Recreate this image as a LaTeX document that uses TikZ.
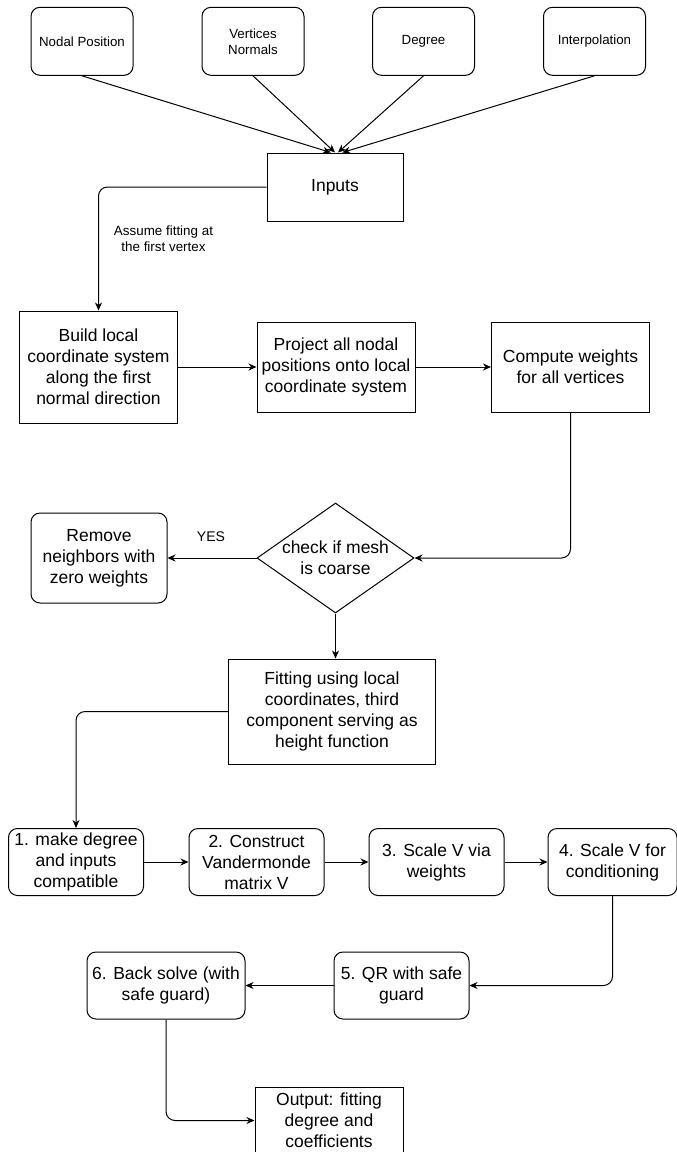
\documentclass[tikz,border=0pt]{standalone}
\usepackage{fontspec}
\setmainfont{Liberation Sans}
\usetikzlibrary{arrows.meta,shapes.geometric}

\tikzset{
  base/.style={draw, line width=1pt, align=center, inner sep=2pt,
    font=\fontsize{17.5}{21}\selectfont},
  sqbox/.style={base, rectangle},
  rbox/.style={base, rectangle, rounded corners=9pt},
  inbox/.style={rbox, minimum width=102pt, minimum height=68pt,
    font=\fontsize{13.3}{16}\selectfont},
  stepbox/.style={rbox, minimum width=135pt, minimum height=67pt},
  link/.style={line width=1pt, -{Stealth[length=8pt,width=7pt,inset=2.5pt]}},
  note/.style={align=center, inner sep=0pt}
}

\begin{document}
\begin{tikzpicture}[x=1pt, y=-1pt]
\useasboundingbox (0,0) rectangle (677,1152);
\clip (0,0) rectangle (677,1152);

% input sources
\node[inbox] (np)  at (82,41.3)    {Nodal Position};
\node[inbox] (vn)  at (253,41.3)   {Vertices\\Normals};
\node[inbox] (deg) at (423.5,41.3) {Degree};
\node[inbox] (ip)  at (594.5,41.3) {Interpolation};

\node[sqbox, minimum width=136pt, minimum height=68pt] (inp) at (335,187) {Inputs};

% local frame and weights
\node[sqbox, minimum width=158pt, minimum height=112pt] (build) at (98.5,367)
  {Build local\\coordinate system\\along the first\\normal direction};
\node[sqbox, minimum width=158pt, minimum height=90pt] (proj) at (336,367)
  {Project all nodal\\positions onto local\\coordinate system};
\node[sqbox, minimum width=158pt, minimum height=90pt] (comp) at (570.5,367)
  {Compute weights\\for all vertices};

% coarse-mesh check
\node[draw, line width=1pt, diamond, aspect=1.427, inner sep=0pt,
  minimum width=157pt, minimum height=110pt] (dia) at (335.5,558) {};
\node[note, font=\fontsize{17.5}{21}\selectfont] at (dia) {check if mesh\\is coarse};
\node[rbox, minimum width=136pt, minimum height=90pt] (rem) at (99,558)
  {Remove\\neighbors with\\zero weights};
\node[note, font=\fontsize{14}{16}\selectfont] (yes) at (211,537) {YES};

\node[sqbox, minimum width=207.5pt, minimum height=105pt] (fit) at (332,711.5)
  {Fitting using local\\coordinates, third\\component serving as\\height function};

% fitting steps
\node[stepbox] (s1) at (76,862)    {1. make degree\\and inputs\\compatible};
\node[stepbox] (s2) at (256.5,862) {2. Construct\\Vandermonde\\matrix V};
\node[stepbox] (s3) at (436.5,862) {3. Scale V via\\weights};
\node[stepbox, minimum width=129pt] (s4) at (612.5,862) {4. Scale V for\\conditioning};
\node[stepbox] (s5) at (401.5,985.5) {5. QR with safe\\guard};
\node[stepbox, minimum width=158pt] (s6) at (166,985.5) {6. Back solve (with\\safe guard)};

\node[sqbox, minimum width=148pt, minimum height=67pt] (out) at (329,1120.5)
  {Output: fitting\\degree and\\coefficients};

% connectors
\draw[link] (np.south)  -- (inp.97);
\draw[link] (vn.south)  -- (inp.90);
\draw[link] (deg.south) -- (inp.85);
\draw[link] (ip.south)  -- (inp.78);
\draw[link, rounded corners=9pt] (inp.west) -| (build.north);
\node[note, font=\fontsize{13.4}{15.5}\selectfont] (assume) at (163.5,238.5)
  {Assume fitting at\\the first vertex};
\draw[link] (build) -- (proj);
\draw[link] (proj) -- (comp);
\draw[link, rounded corners=9pt] (comp.south) |- (dia.east);
\draw[link] (dia.west) -- (rem.east);
\draw[link] (dia.south) -- (dia.south |- fit.north);
\draw[link, rounded corners=9pt] (fit.west) -| (s1.north);
\draw[link] (s1) -- (s2);
\draw[link] (s2) -- (s3);
\draw[link] (s3) -- (s4);
\draw[link, rounded corners=9pt] (s4.south) |- (s5.east);
\draw[link] (s5) -- (s6);
\draw[link, rounded corners=9pt] (s6.south) |- (out.west);
\end{tikzpicture}
\end{document}
